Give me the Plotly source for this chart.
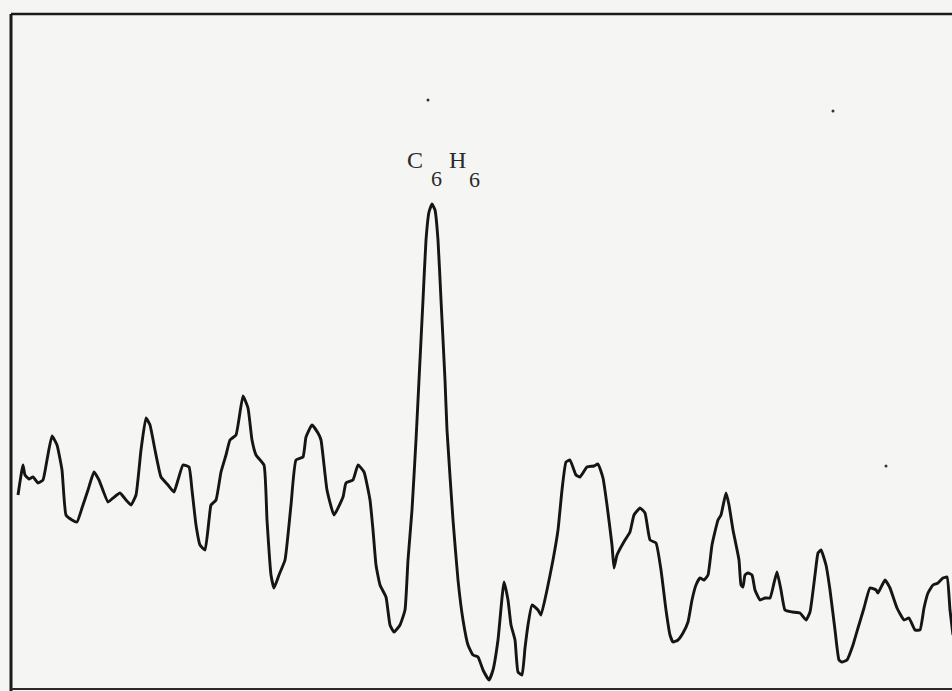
import plotly.graph_objects as go

x_pos = [18, 23, 25, 29, 33, 38, 43, 47, 52, 57, 62, 66, 72, 77, 82, 88, 94, 99, 108, 113,
         120, 126, 131, 136, 141, 146, 150, 155, 161, 168, 174, 178, 183, 189, 192, 196, 200, 205,
         209, 211, 216, 221, 226, 230, 236, 243, 248, 252, 256, 264, 267, 271, 274, 279, 285,
         291, 296, 303, 306, 312, 318, 321, 327, 334, 343, 346, 353, 358, 364, 370, 373, 376,
         380, 386, 390, 394, 400, 405, 408, 412, 416, 419, 423, 426, 429, 432, 435, 438, 441,
         445, 447, 453, 458, 463, 468, 473, 478, 483, 489, 493, 498, 504, 508, 511, 515, 518,
         522, 525, 528, 532, 538, 541, 547, 553, 558, 562, 566, 570, 576, 580, 587, 594, 598,
         603, 607, 612, 614, 617, 625, 630, 634, 640, 645, 650, 656, 661, 666, 670, 673, 678,
         683, 688, 692, 696, 700, 704, 708, 712, 718, 721, 726, 729, 733, 739, 741, 743, 745,
         748, 752, 755, 760, 765, 770, 774, 777, 781, 785, 792, 800, 806, 810, 815, 818, 821,
         826, 830, 835, 839, 842, 847, 853, 858, 864, 870, 876, 878, 885, 890, 897, 904, 909,
         915, 920, 924, 928, 933, 938, 943, 947, 950, 953]
signal = [495, 465, 475, 479, 477, 483, 480, 460, 436, 445, 470, 515, 520, 522, 508, 490, 472, 480, 502, 498,
          493, 500, 505, 495, 450, 418, 425, 450, 477, 485, 492, 480, 465, 467, 490, 525, 545, 550,
          520, 505, 500, 472, 455, 440, 435, 396, 408, 440, 455, 465, 520, 575, 588, 575, 560,
          505, 460, 457, 437, 425, 433, 440, 490, 515, 497, 483, 480, 465, 472, 500, 530, 565,
          585, 597, 625, 632, 625, 610, 560, 510, 440, 380, 300, 240, 212, 204, 210, 240, 300,
          380, 430, 520, 580, 620, 645, 655, 657, 670, 680, 670, 640, 582, 600, 625, 640, 672,
          675, 648, 625, 605, 610, 615, 590, 560, 530, 490, 462, 460, 475, 477, 467, 466, 464,
          478, 505, 545, 568, 555, 540, 532, 515, 508, 513, 540, 543, 570, 610, 635, 642, 640,
          633, 622, 600, 585, 578, 580, 575, 545, 520, 515, 493, 505, 530, 560, 585, 587, 575,
          573, 575, 590, 600, 598, 598, 583, 572, 590, 610, 612, 613, 620, 612, 575, 553, 550,
          565, 590, 630, 660, 662, 660, 645, 628, 608, 588, 590, 593, 580, 588, 608, 620, 618,
          630, 630, 608, 593, 585, 583, 578, 577, 610, 635]

# Stray specks on the scanned sheet
speck_x = [428, 833, 886]
speck_y = [100, 111, 466]

# Peak label C6H6, drawn glyph group by glyph group (typewritten, large subscripts)
label_parts = ["C", "6", "H", "6"]
label_x = [415, 436, 457, 474]
label_y = [160, 178, 160, 179]
label_size = [24, 22, 24, 22]

fig = go.Figure()
fig.add_trace(go.Scatter(x=x_pos, y=signal, mode="lines",
                         line=dict(color="#151515", width=2.9, shape="spline", smoothing=0.4),
                         hoverinfo="skip", showlegend=False))
fig.add_trace(go.Scatter(x=speck_x, y=speck_y, mode="markers",
                         marker=dict(color="#333333", size=3),
                         hoverinfo="skip", showlegend=False))

for t, lx, ly, s in zip(label_parts, label_x, label_y, label_size):
    fig.add_annotation(x=lx, y=ly, text=t, showarrow=False,
                       font=dict(family="Liberation Serif", size=s, color="#2a2a2a"))

# Frame of the chart paper
frame = dict(color="#1a1a1a", width=3)
fig.add_shape(type="line", x0=11, x1=11, y0=14, y1=691, line=frame)
fig.add_shape(type="line", x0=11, x1=952, y0=14, y1=14, line=dict(color="#1a1a1a", width=2.5))
fig.add_shape(type="line", x0=11, x1=952, y0=689, y1=689, line=dict(color="#2a2a2a", width=2))

fig.update_layout(
    width=952, height=691,
    margin=dict(l=0, r=0, t=0, b=0),
    paper_bgcolor="#f5f5f3", plot_bgcolor="#f5f5f3",
    xaxis=dict(range=[0, 952], visible=False, fixedrange=True),
    yaxis=dict(range=[691, 0], visible=False, fixedrange=True),
)

fig.write_html("out.html", config={"displayModeBar": False},
               post_script="document.body.style.margin='0';document.body.style.overflow='hidden';document.body.style.background='#f5f5f3';")
